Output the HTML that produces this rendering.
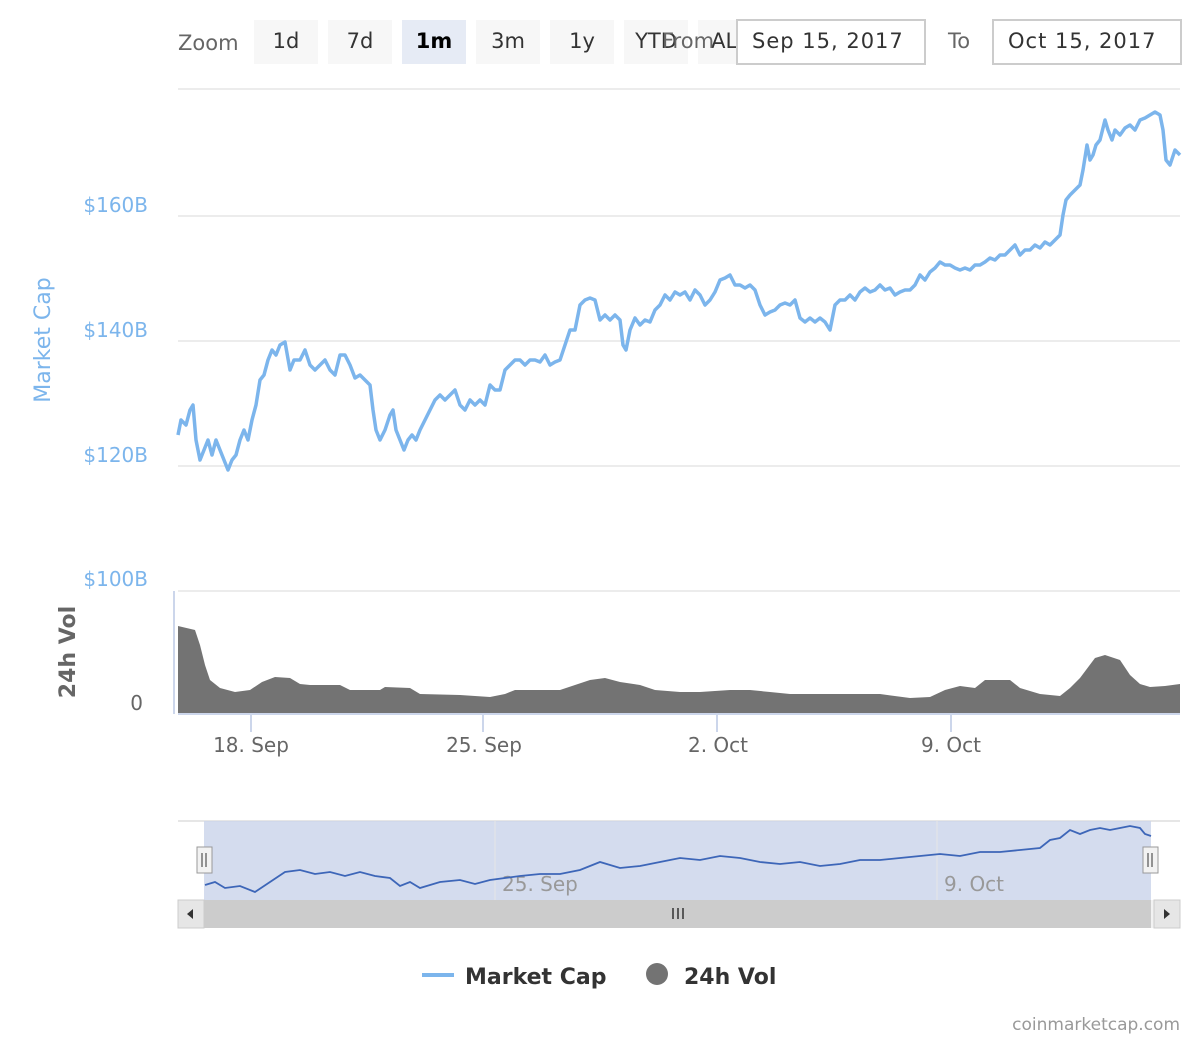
<!DOCTYPE html>
<html><head><meta charset="utf-8"><style>
body{margin:0;background:#fff;width:1200px;height:1040px;overflow:hidden;font-family:"DejaVu Sans",sans-serif;}
</style></head><body>
<svg width="1200" height="1040" xmlns="http://www.w3.org/2000/svg" font-family="DejaVu Sans, sans-serif">
<text x="178" y="50" font-size="21" fill="#666">Zoom</text>
<g font-size="21" fill="#333" text-anchor="middle">
<rect x="254" y="20" width="64" height="44" fill="#f7f7f7"/><text x="286" y="48">1d</text>
<rect x="328" y="20" width="64" height="44" fill="#f7f7f7"/><text x="360" y="48">7d</text>
<rect x="402" y="20" width="64" height="44" fill="#e6ebf5"/><text x="434" y="48" font-weight="bold" fill="#000">1m</text>
<rect x="476" y="20" width="64" height="44" fill="#f7f7f7"/><text x="508" y="48">3m</text>
<rect x="550" y="20" width="64" height="44" fill="#f7f7f7"/><text x="582" y="48">1y</text>
<rect x="624" y="20" width="64" height="44" fill="#f7f7f7"/><text x="656" y="48">YTD</text>
<rect x="698" y="20" width="64" height="44" fill="#f7f7f7"/><text x="730" y="48">ALL</text>
</g>
<text x="662" y="48" font-size="21" fill="#666">From</text>
<rect x="737" y="20" width="188" height="44" fill="#fff" stroke="#ccc" stroke-width="2"/>
<text x="752" y="48" font-size="21" fill="#333" letter-spacing="1">Sep 15, 2017</text>
<text x="948" y="48" font-size="21" fill="#666">To</text>
<rect x="993" y="20" width="188" height="44" fill="#fff" stroke="#ccc" stroke-width="2"/>
<text x="1008" y="48" font-size="21" fill="#333" letter-spacing="1">Oct 15, 2017</text>
<g stroke="#e6e6e6" stroke-width="1.5">
<line x1="178" y1="89" x2="1180" y2="89"/><line x1="178" y1="216" x2="1180" y2="216"/>
<line x1="178" y1="341" x2="1180" y2="341"/><line x1="178" y1="466" x2="1180" y2="466"/>
<line x1="178" y1="591" x2="1180" y2="591"/>
</g>
<g font-size="20" fill="#7cb5ec" text-anchor="end">
<text x="148" y="212">$160B</text><text x="148" y="337">$140B</text><text x="148" y="462">$120B</text><text x="148" y="586">$100B</text>
</g>
<text transform="translate(50,340) rotate(-90)" font-size="22" fill="#7cb5ec" text-anchor="middle">Market Cap</text>
<text transform="translate(75,652) rotate(-90)" font-size="22" fill="#666" font-weight="bold" text-anchor="middle">24h Vol</text>
<text x="143" y="710" font-size="20" fill="#666" text-anchor="end">0</text>
<line x1="174" y1="591" x2="174" y2="714" stroke="#ccd6eb" stroke-width="2"/>
<polygon fill="#737373" points="178,714 178,626 195,630 200,645 205,665 210,680 220,688 235,692 250,690 262,682 275,677 290,678 300,684 310,685 340,685 350,690 380,690 385,687 410,688 420,694 460,695 490,697 505,694 515,690 560,690 575,685 590,680 605,678 620,682 640,685 655,690 680,692 700,692 730,690 750,690 770,692 790,694 880,694 910,698 930,697 945,690 960,686 975,688 985,680 1010,680 1020,688 1040,694 1060,696 1070,688 1080,678 1095,658 1105,655 1120,660 1130,675 1140,684 1150,687 1165,686 1180,684 1180,714"/>
<line x1="178" y1="714" x2="1180" y2="714" stroke="#ccd6eb" stroke-width="2"/>
<g stroke="#ccd6eb" stroke-width="2"><line x1="251" y1="714" x2="251" y2="732"/><line x1="483" y1="714" x2="483" y2="732"/><line x1="717" y1="714" x2="717" y2="732"/><line x1="951" y1="714" x2="951" y2="732"/></g>
<g font-size="20" fill="#666" text-anchor="middle">
<text x="251" y="752">18. Sep</text><text x="484" y="752">25. Sep</text><text x="718" y="752">2. Oct</text><text x="951" y="752">9. Oct</text>
</g>
<polyline fill="none" stroke="#7cb5ec" stroke-width="3.5" stroke-linejoin="round" points="178,435 181,420 186,425 190,410 193,405 196,440 200,460 204,450 208,440 212,455 216,440 222,455 228,470 232,460 236,455 240,440 244,430 248,440 252,420 256,405 260,380 264,375 268,360 272,350 276,355 280,345 285,342 290,370 294,360 300,360 305,350 310,365 315,370 320,365 325,360 330,370 335,375 340,355 345,355 350,365 355,378 360,375 365,380 370,385 373,410 376,430 380,440 385,430 390,415 393,410 396,430 400,440 404,450 408,440 412,435 416,440 420,430 425,420 430,410 435,400 440,395 445,400 450,395 455,390 460,405 465,410 470,400 475,405 480,400 485,405 490,385 495,390 500,390 505,370 510,365 515,360 520,360 525,365 530,360 535,360 540,362 545,355 550,365 555,362 560,360 565,345 570,330 575,330 580,305 585,300 590,298 595,300 600,320 605,315 610,320 615,315 620,320 623,345 626,350 630,330 635,318 640,325 645,320 650,322 655,310 660,305 665,295 670,300 675,292 680,295 685,292 690,300 695,290 700,295 705,305 710,300 715,292 720,280 725,278 730,275 735,285 740,285 745,288 750,285 755,290 760,305 765,315 770,312 775,310 780,305 785,303 790,305 795,300 800,318 805,322 810,318 815,322 820,318 825,322 830,330 835,305 840,300 845,300 850,295 855,300 860,292 865,288 870,292 875,290 880,285 885,290 890,288 895,295 900,292 905,290 910,290 915,285 920,275 925,280 930,272 935,268 940,262 945,265 950,265 955,268 960,270 965,268 970,270 975,265 980,265 985,262 990,258 995,260 1000,255 1005,255 1010,250 1015,245 1020,255 1025,250 1030,250 1035,245 1040,248 1045,242 1050,245 1055,240 1060,235 1063,215 1066,200 1070,195 1075,190 1080,185 1083,170 1087,145 1090,160 1093,155 1096,145 1100,140 1105,120 1108,130 1112,140 1115,130 1120,135 1125,128 1130,125 1135,130 1140,120 1145,118 1150,115 1155,112 1160,115 1163,130 1166,160 1170,165 1175,150 1180,155"/>
<line x1="178" y1="821" x2="1180" y2="821" stroke="#ccc" stroke-width="1"/>
<rect x="204" y="821" width="947" height="79" fill="#ccd6eb" fill-opacity="0.85"/>
<g stroke="#e6e6e6"><line x1="495" y1="821" x2="495" y2="900"/><line x1="937" y1="821" x2="937" y2="900"/></g>
<g font-size="20" fill="#999"><text x="502" y="891">25. Sep</text><text x="944" y="891">9. Oct</text></g>
<polyline fill="none" stroke="#3d66b8" stroke-width="1.8" points="205,885 215,882 225,888 240,886 255,892 270,882 285,872 300,870 315,874 330,872 345,876 360,872 375,876 390,878 400,886 410,882 420,888 440,882 460,880 475,884 490,880 505,878 520,876 540,874 560,874 580,870 600,862 620,868 640,866 660,862 680,858 700,860 720,856 740,858 760,862 780,864 800,862 820,866 840,864 860,860 880,860 900,858 920,856 940,854 960,856 980,852 1000,852 1020,850 1040,848 1050,840 1060,838 1070,830 1080,834 1090,830 1100,828 1110,830 1120,828 1130,826 1140,828 1145,834 1151,836"/>
<rect x="197" y="847" width="15" height="26" fill="#f2f2f2" stroke="#999"/>
<line x1="202" y1="853" x2="202" y2="867" stroke="#333"/><line x1="206" y1="853" x2="206" y2="867" stroke="#333"/>
<rect x="1143" y="847" width="15" height="26" fill="#f2f2f2" stroke="#999"/>
<line x1="1148" y1="853" x2="1148" y2="867" stroke="#333"/><line x1="1152" y1="853" x2="1152" y2="867" stroke="#333"/>
<rect x="178" y="900" width="1002" height="28" fill="#f2f2f2"/>
<rect x="204" y="900" width="947" height="28" fill="#ccc"/>
<rect x="178" y="900" width="26" height="28" fill="#e6e6e6" stroke="#ccc"/>
<rect x="1154" y="900" width="26" height="28" fill="#e6e6e6" stroke="#ccc"/>
<polygon points="193,909 193,919 187,914" fill="#333"/><polygon points="1164,909 1164,919 1170,914" fill="#333"/>
<g stroke="#333" stroke-width="1.5"><line x1="673" y1="908" x2="673" y2="919"/><line x1="678" y1="908" x2="678" y2="919"/><line x1="683" y1="908" x2="683" y2="919"/></g>
<line x1="422" y1="975" x2="454" y2="975" stroke="#7cb5ec" stroke-width="4"/>
<text x="465" y="984" font-size="22" font-weight="bold" fill="#333">Market Cap</text>
<circle cx="657" cy="974" r="11" fill="#737373"/>
<text x="684" y="984" font-size="22" font-weight="bold" fill="#333">24h Vol</text>
<text x="1180" y="1030" font-size="17" fill="#999" text-anchor="end">coinmarketcap.com</text>
</svg>
</body></html>
